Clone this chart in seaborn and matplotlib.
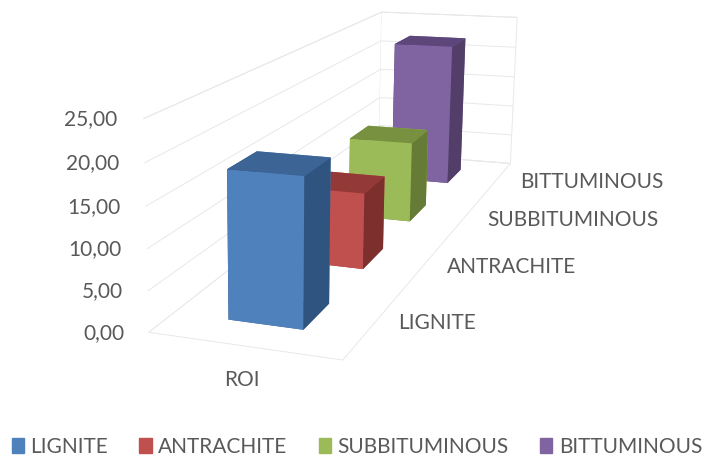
import numpy as np
import seaborn as sns
import matplotlib
matplotlib.use("Agg")
import matplotlib.pyplot as plt
from matplotlib.patches import Patch

categories = ["LIGNITE", "ANTRACHITE", "SUBBITUMINOUS", "BITTUMINOUS"]
roi = [18.2, 10.2, 11.7, 22.2]
colors = ["#4f81bd", "#c0504d", "#9bbb59", "#8064a2"]
tops = ["#3c6595", "#933a38", "#779140", "#5d4679"]
sides = ["#2f5480", "#7d2f2d", "#667b36", "#523e69"]
y_ticks = [0, 5, 10, 15, 20, 25]
y_labels = ["0,00", "5,00", "10,00", "15,00", "20,00", "25,00"]

sns.set_theme(style="white")
plt.rcParams["font.family"] = ["Lato", "DejaVu Sans"]
text_color = "#595959"
W, H = 704, 459

# box corners (0-1 in x,y,z) and where they sit in the picture
box = [(0,0,0),(1,0,0),(1,1,0),(0,1,0),(0,0,1),(0,1,1),(1,1,1)]
pix = [(150,333),(342,360),(511,163),(378,153),(143,118),(382,12),(517,18)]
rows = []
for (X,Y,Z),(px,py) in zip(box,pix):
    u, v = px, H-py
    rows.append([X,Y,Z,1,0,0,0,0,-u*X,-u*Y,-u*Z,-u])
    rows.append([0,0,0,0,X,Y,Z,1,-v*X,-v*Y,-v*Z,-v])
cam = np.linalg.svd(np.array(rows))[2][-1].reshape(3,4)
if cam[2,3] < 0:
    cam = -cam
cam = cam @ np.diag([1, 1/4, 1/25, 1])

fig = plt.figure(figsize=(W/100, H/100), dpi=100)
ax = fig.add_axes([0, 0, 1, 1], projection="3d")

def get_proj():
    m = ax.transData.inverted().get_matrix() @ cam
    depth = np.array([-0.4, 1/4, -0.2/25, 1.0])*m[2,3]
    return np.vstack([m[0], m[1], depth, m[2]])
ax.get_proj = get_proj

for i, v in enumerate(roi):
    ax.bar3d(0.3, i + 0.3, 0, 0.4, 0.4, v, shade=False, edgecolor="none", linewidth=0,
             color=[tops[i], tops[i], colors[i], colors[i], sides[i], sides[i]])

ax.set_xlim(0, 1)
ax.set_ylim(0, 4)
ax.set_zlim(0, 25)
ax.set_xticks([])
ax.set_yticks([])
ax.set_zticks(y_ticks)
ax.set_zticklabels([])
for axis in (ax.xaxis, ax.yaxis, ax.zaxis):
    axis.set_pane_color((1, 1, 1, 1))
    axis.pane.set_edgecolor("#e8e8e8")
    axis.pane.set_linewidth(0.7)
    axis._axinfo["grid"]["color"] = "#e8e8e8"
    axis._axinfo["grid"]["linewidth"] = 0.7
    axis._axinfo["tick"]["inward_factor"] = 0
    axis._axinfo["tick"]["outward_factor"] = 0
    axis.line.set_color((1, 1, 1, 0))
    axis.label.set_visible(False)
    axis.offsetText.set_visible(False)
    for tick in axis.get_major_ticks():
        tick.label1.set_visible(False)
        tick.label2.set_visible(False)

for t, lab in zip(y_ticks, y_labels):
    ax.text(-0.11, -0.05, t, lab, color=text_color, fontsize=15, ha="right", va="center")
ax.text(0.65, -0.38, 0, "ROI", color=text_color, fontsize=15, ha="center", va="center")
label_x = [1.11, 1.13, 1.145, 1.162]
label_y = [0.55, 1.5, 2.5, 3.5]
for c, lx, ly in zip(categories, label_x, label_y):
    ax.text(lx, ly, 0, c, color=text_color, fontsize=15, ha="left", va="center")

handles = [Patch(color=c, label=n) for n, c in zip(categories, colors)]
fig.legend(handles=handles, loc="lower center", ncol=4, frameon=False, fontsize=15,
           labelcolor=text_color, handlelength=0.6, handleheight=0.7, columnspacing=1.5,
           handletextpad=0.3, borderpad=0, borderaxespad=0, bbox_to_anchor=(0.507, 0.005))
fig.savefig("out.png", dpi=100)
